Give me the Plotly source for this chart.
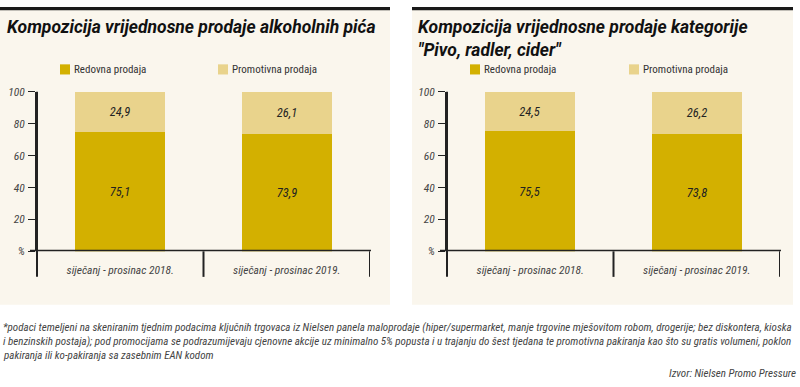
import plotly.graph_objects as go

W, H = 800, 387

categories = ["siječanj - prosinac 2018.", "siječanj - prosinac 2019."]
series_names = ["Redovna prodaja", "Promotivna prodaja"]
chart1_title = "Kompozicija vrijednosne prodaje alkoholnih pića"
chart1_redovna = [75.1, 73.9]
chart1_promotivna = [24.9, 26.1]
chart2_title = "Kompozicija vrijednosne prodaje kategorije<br>\"Pivo, radler, cider\""
chart2_redovna = [75.5, 73.8]
chart2_promotivna = [24.5, 26.2]
y_tick_vals = [0, 20, 40, 60, 80, 100]
y_tick_text = ["%", "20", "40", "60", "80", "100"]
footnote_lines = [
    "*podaci temeljeni na skeniranim tjednim podacima ključnih trgovaca iz Nielsen panela maloprodaje (hiper/supermarket, manje trgovine mješovitom robom, drogerije; bez diskontera, kioska",
    "i benzinskih postaja); pod promocijama se podrazumijevaju cjenovne akcije uz minimalno 5% popusta i u trajanju do šest tjedana te promotivna pakiranja kao što su gratis volumeni, poklon",
    "pakiranja ili ko-pakiranja sa zasebnim EAN kodom",
]
source_text = "Izvor: Nielsen Promo Pressure"

DARK = "#d3b000"
LIGHT = "#e9d38c"
BG = "#faf6ed"
INK = "#222222"
GREY = "#444444"
NARROW = "Liberation Sans Narrow, Roboto Condensed, Roboto, sans-serif"
TITLEF = "Roboto, sans-serif"


def px(x):
    return x / W


def py(y):
    return 1 - y / H


fig = go.Figure()
shapes = []
annotations = []

panels = [
    dict(title=chart1_title, red=chart1_redovna, promo=chart1_promotivna,
         left=37, right=370, div=203, base=253.5, top=88, title_x=5, title_y=8,
         bg=(0, 390), sw1=60, sw2=218, xa="x", ya="y"),
    dict(title=chart2_title, red=chart2_redovna, promo=chart2_promotivna,
         left=447, right=780, div=613, base=253.5, top=88, title_x=416, title_y=8,
         bg=(412, 793), sw1=470, sw2=629, xa="x2", ya="y2"),
]

for i, p in enumerate(panels):
    # panel background + top black strip
    shapes.append(dict(type="rect", xref="paper", yref="paper", x0=px(p["bg"][0]), x1=px(p["bg"][1]),
                       y0=py(309), y1=py(0), fillcolor=BG, line=dict(width=0), layer="below"))
    shapes.append(dict(type="rect", xref="paper", yref="paper", x0=px(p["bg"][0]), x1=px(p["bg"][1]),
                       y0=py(3.5), y1=py(0), fillcolor="#1a1a1a", line=dict(width=0), layer="below"))
    xa, ya = p["xa"], p["ya"]
    suffix = "" if i == 0 else "2"
    fig.add_trace(go.Bar(x=categories, y=p["red"], name=series_names[0], marker_color=DARK,
                         marker_line_width=0, width=0.54,
                         text=[f"{v:.1f}".replace(".", ",") for v in p["red"]],
                         textposition="inside", insidetextanchor="middle",
                         textfont=dict(family=NARROW, size=12.5, color=INK, style="italic"),
                         xaxis=xa, yaxis=ya, showlegend=False, hoverinfo="skip"))
    fig.add_trace(go.Bar(x=categories, y=p["promo"], name=series_names[1], marker_color=LIGHT,
                         marker_line_width=0, width=0.54,
                         text=[f"{v:.1f}".replace(".", ",") for v in p["promo"]],
                         textposition="inside", insidetextanchor="middle",
                         textfont=dict(family=NARROW, size=12.5, color=INK, style="italic"),
                         xaxis=xa, yaxis=ya, showlegend=False, hoverinfo="skip"))
    fig.layout["xaxis" + suffix] = dict(
        domain=[px(p["left"]), px(p["right"])], range=[-0.5, 1.5], anchor=ya,
        showgrid=False, zeroline=False, showline=False, ticks="",
        tickfont=dict(family=NARROW, size=11.5, color=GREY, style="italic"),
        ticklabelstandoff=10, fixedrange=True,
    )
    fig.layout["yaxis" + suffix] = dict(
        domain=[py(p["base"]), py(p["top"])], range=[0, 100], anchor=xa,
        showgrid=False, zeroline=False, showline=True, linecolor=INK, linewidth=2,
        ticks="outside", ticklen=7, tickwidth=1, tickcolor=INK,
        tickvals=y_tick_vals, ticktext=y_tick_text,
        tickfont=dict(family=NARROW, size=11.5, color=GREY, style="italic"),
        ticklabelstandoff=1, fixedrange=True,
    )
    # axis extension, baseline, dividers
    shapes.append(dict(type="line", xref="paper", yref="paper", x0=px(p["left"]), x1=px(p["left"]),
                       y0=py(p["top"]), y1=py(280), line=dict(color=INK, width=2)))
    shapes.append(dict(type="line", xref="paper", yref=ya, x0=px(p["left"] - 7), x1=px(p["right"] + 1),
                       y0=0, y1=0, line=dict(color=INK, width=3)))
    for xv in (0.5, 1.5):
        shapes.append(dict(type="line", xref=xa, yref="paper", x0=xv, x1=xv,
                           y0=py(p["base"]), y1=py(280), line=dict(color=INK, width=2)))
    # title
    annotations.append(dict(text="<b><i>" + p["title"] + "</i></b>", xref="paper", yref="paper",
                            x=px(p["title_x"]), y=py(p["title_y"]), xanchor="left", yanchor="top",
                            align="left", showarrow=False,
                            font=dict(family=TITLEF, size=17.5, color="#111111", weight=900)))
    # legend
    for sx, name, col in ((p["sw1"], series_names[0], DARK), (p["sw2"], series_names[1], LIGHT)):
        shapes.append(dict(type="rect", xref="paper", yref="paper", x0=px(sx), x1=px(sx + 10),
                           y0=py(70), y1=py(59.5), fillcolor=col, line=dict(width=0)))
        annotations.append(dict(text=name, xref="paper", yref="paper", x=px(sx + 12), y=py(65),
                                xanchor="left", yanchor="middle", showarrow=False,
                                font=dict(family=NARROW, size=11, color="#333333")))

for k, line in enumerate(footnote_lines):
    annotations.append(dict(text="<i>" + line + "</i>", xref="paper", yref="paper", x=px(1), y=py(333 + 14.5 * k),
                            xanchor="left", yanchor="middle", showarrow=False,
                            font=dict(family=NARROW, size=11, color=GREY)))
annotations.append(dict(text="<i>" + source_text + "</i>", xref="paper", yref="paper", x=px(798), y=py(380),
                        xanchor="right", yanchor="middle", showarrow=False,
                        font=dict(family=NARROW, size=11, color=GREY)))

fig.update_layout(
    width=W, height=H, margin=dict(l=0, r=0, t=0, b=0),
    paper_bgcolor="white", plot_bgcolor="rgba(0,0,0,0)",
    barmode="stack", bargap=0, showlegend=False,
    shapes=shapes, annotations=annotations,
)

post = (
    "document.documentElement.style.margin='0';document.documentElement.style.overflow='hidden';"
    "document.body.style.margin='0';document.body.style.padding='0';document.body.style.overflow='hidden';"
    "var d=document.getElementById('{plot_id}');d.style.position='fixed';d.style.top='0px';d.style.left='0px';"
)
fig.write_html("out.html", config={"displayModeBar": False}, post_script=post)
